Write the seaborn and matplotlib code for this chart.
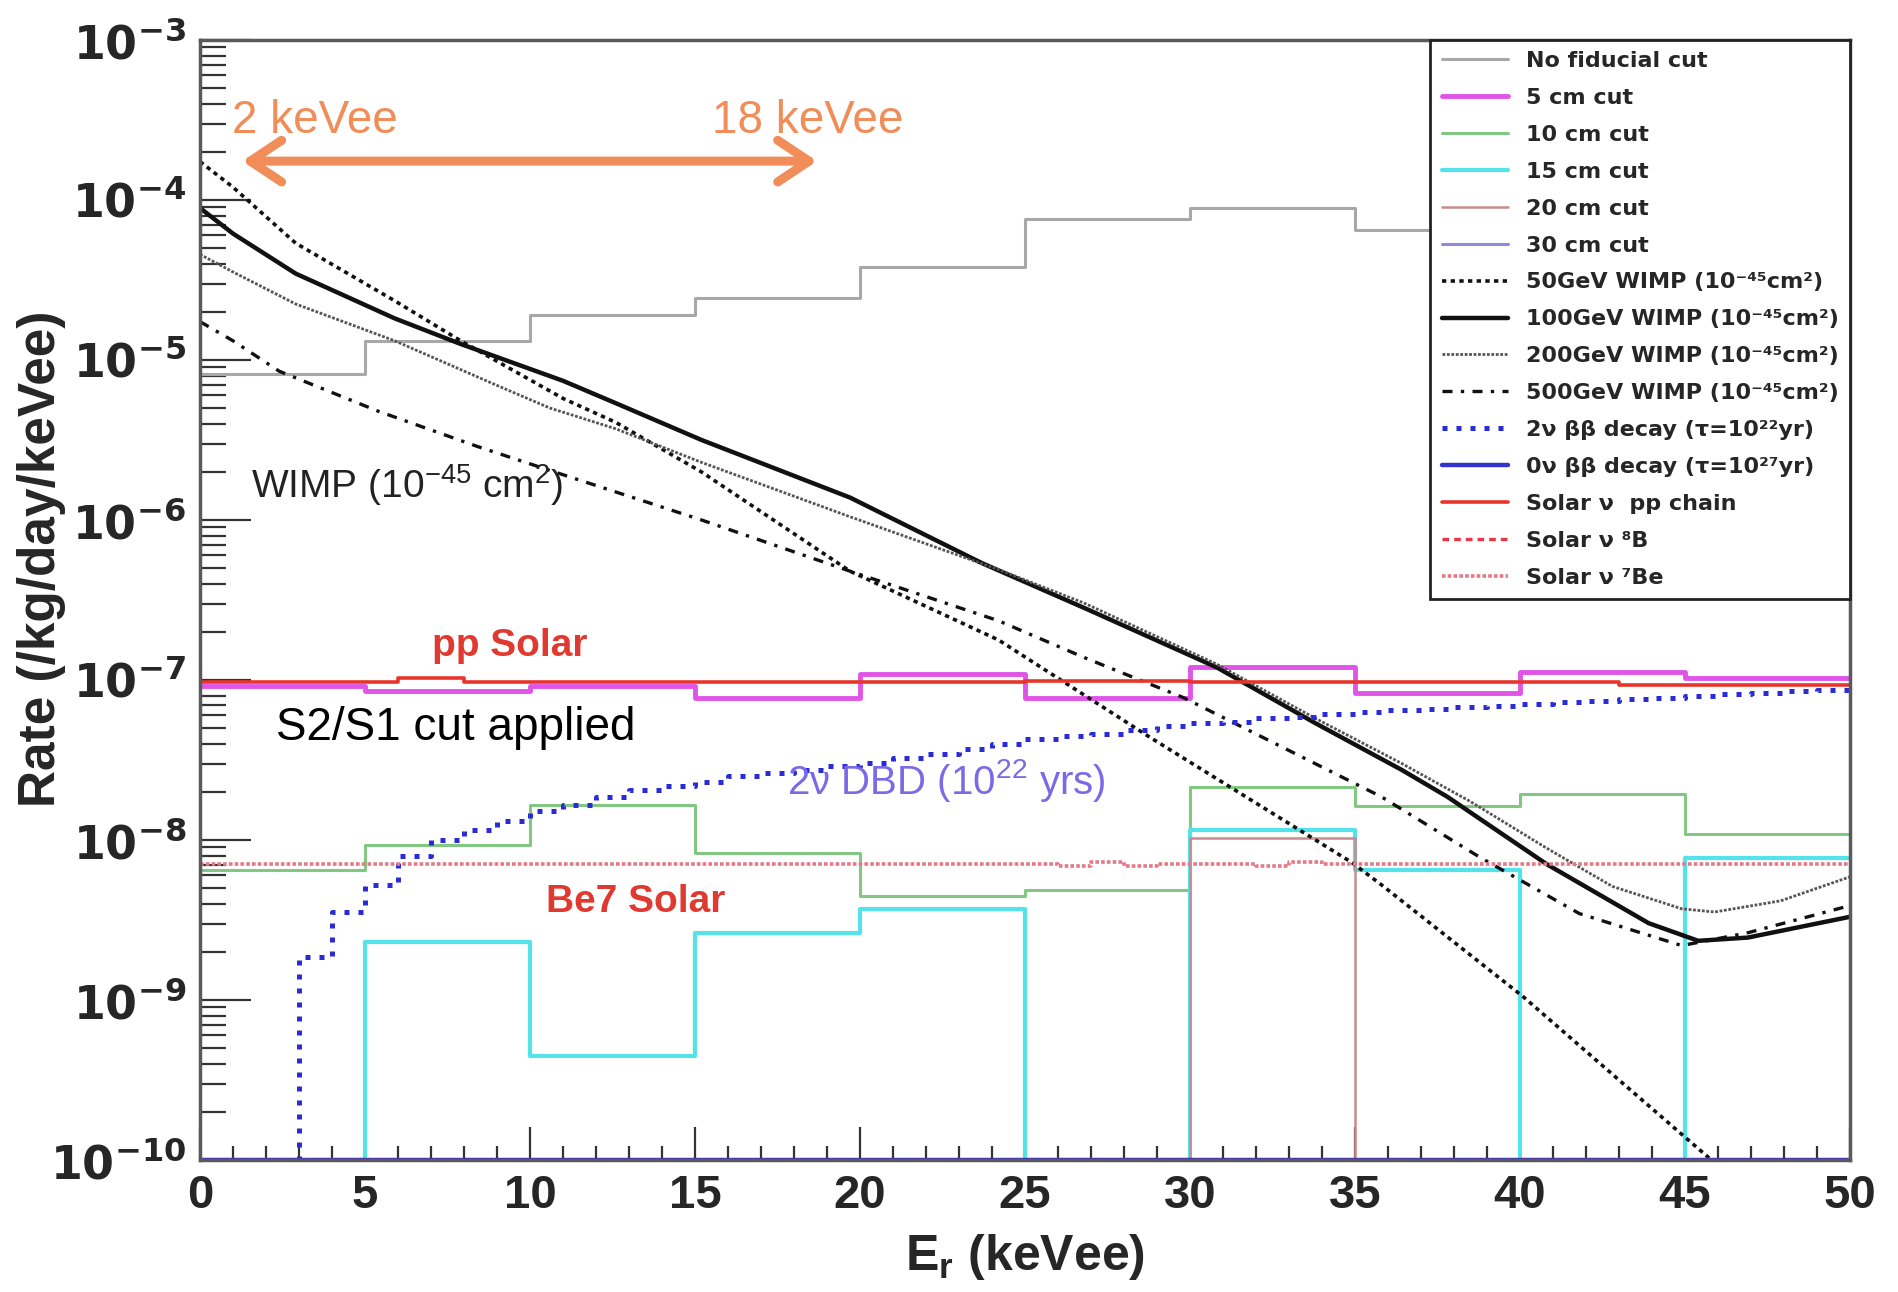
import numpy as np
import matplotlib
matplotlib.use("Agg")
import matplotlib.pyplot as plt
import seaborn as sns
from matplotlib.ticker import FixedLocator, FuncFormatter, LogLocator, NullFormatter

sns.set_theme(style="white")
plt.rcParams['font.family'] = ['DejaVu Sans']
plt.rcParams['mathtext.default'] = 'regular'

# ========== data (log10 of rate) ==========
cut_edges = [0, 5, 10, 15, 20, 25, 30, 35, 40, 45, 50]
nofid_log = [-5.09, -4.88, -4.72, -4.61, -4.42, -4.12, -4.05, -4.19, -4.30, -4.45]
cut5_log = [-7.04, -7.07, -7.04, -7.11, -6.96, -7.11, -6.92, -7.08, -6.95, -6.99]
cut10_log = [-8.19, -8.03, -7.78, -8.08, -8.35, -8.31, -7.67, -7.79, -7.71, -7.96]
cut15_log = [np.nan, -8.64, -9.35, -8.58, -8.43, np.nan, -7.94, -8.19, np.nan, -8.11]
cut20_log = [np.nan, np.nan, np.nan, np.nan, np.nan, np.nan, -7.99, np.nan, np.nan, np.nan]
cut30_log = [np.nan] * 10

wimp50_E = [0, 1.0, 2.9, 5.9, 7.9, 11.0, 12.6, 15.2, 19.7, 24.2, 28.8, 34.9, 35.8, 40.1, 43.0, 45.8]
wimp50_log = [-3.76, -3.92, -4.27, -4.63, -4.88, -5.24, -5.39, -5.70, -6.32, -6.75, -7.36, -8.14,
              -8.28, -8.98, -9.50, -10.0]
wimp100_E = [0, 1.0, 2.9, 5.9, 7.9, 11.0, 12.6, 15.2, 19.7, 23.7, 26.8, 30.8, 33.8, 36.4, 37.8,
             40.8, 43.9, 45.4, 46.9, 50.0]
wimp100_log = [-4.05, -4.21, -4.46, -4.74, -4.90, -5.13, -5.27, -5.50, -5.86, -6.27, -6.55, -6.92,
               -7.27, -7.56, -7.73, -8.15, -8.52, -8.63, -8.61, -8.48]
wimp200_E = [0, 1.0, 2.9, 5.9, 8.9, 10.6, 12.6, 15.2, 19.7, 24.2, 26.8, 30.8, 33.8, 36.4, 38.5,
             40.8, 42.8, 44.9, 45.9, 47.9, 50.0]
wimp200_log = [-4.34, -4.45, -4.65, -4.88, -5.15, -5.30, -5.43, -5.64, -5.98, -6.31, -6.52, -6.90,
               -7.24, -7.52, -7.76, -8.05, -8.29, -8.43, -8.45, -8.38, -8.23]
wimp500_E = [0, 1.0, 2.4, 5.4, 8.4, 10.6, 15.2, 19.7, 24.2, 26.8, 29.8, 32.8, 35.8, 38.8, 41.8,
             44.9, 46.9, 50.0]
wimp500_log = [-4.76, -4.88, -5.07, -5.32, -5.54, -5.69, -6.00, -6.32, -6.63, -6.86, -7.11, -7.42,
               -7.73, -8.11, -8.46, -8.66, -8.58, -8.41]

fine_edges = list(range(0, 51))
dbd2_log = [np.nan, np.nan, np.nan, -8.73, -8.45, -8.28, -8.10, -8.00, -7.94, -7.88,
            -7.82, -7.78, -7.73, -7.69, -7.66, -7.64, -7.60, -7.58, -7.56, -7.54,
            -7.52, -7.49, -7.46, -7.43, -7.40, -7.37, -7.35, -7.34, -7.31, -7.29,
            -7.27, -7.26, -7.24, -7.23, -7.21, -7.20, -7.19, -7.18, -7.17, -7.16,
            -7.15, -7.14, -7.13, -7.12, -7.11, -7.10, -7.09, -7.08, -7.07, -7.06]
dbd0_log = [np.nan] * 50
pp_log = [-7.015, -7.015, -7.015, -7.015, -7.015, -7.015, -6.985, -6.985, -7.015, -7.015,
          -7.015, -7.015, -7.015, -7.015, -7.015, -7.015, -7.015, -7.015, -7.015, -7.015,
          -7.010, -7.010, -7.010, -7.010, -7.010, -7.005, -7.005, -7.005, -7.005, -7.005,
          -7.015, -7.015, -7.015, -7.015, -7.015, -7.015, -7.015, -7.015, -7.015, -7.015,
          -7.015, -7.015, -7.015, -7.030, -7.030, -7.030, -7.030, -7.030, -7.030, -7.030]
b8_log = [np.nan] * 50
be7_log = [-8.15, -8.15, -8.15, -8.15, -8.15, -8.15, -8.15, -8.15, -8.15, -8.15,
           -8.15, -8.15, -8.15, -8.15, -8.15, -8.15, -8.15, -8.15, -8.15, -8.15,
           -8.15, -8.15, -8.15, -8.15, -8.15, -8.15, -8.16, -8.14, -8.16, -8.15,
           -8.15, -8.15, -8.16, -8.14, -8.15, -8.15, -8.15, -8.15, -8.15, -8.15,
           -8.15, -8.15, -8.15, -8.15, -8.15, -8.15, -8.15, -8.15, -8.15, -8.15]

legend_labels = ["No fiducial cut", "5 cm cut", "10 cm cut", "15 cm cut", "20 cm cut", "30 cm cut",
                 "50GeV WIMP (10⁻⁴⁵cm²)", "100GeV WIMP (10⁻⁴⁵cm²)", "200GeV WIMP (10⁻⁴⁵cm²)",
                 "500GeV WIMP (10⁻⁴⁵cm²)", "2ν ββ decay (τ=10²²yr)", "0ν ββ decay (τ=10²⁷yr)",
                 "Solar ν  pp chain", "Solar ν ⁸B", "Solar ν ⁷Be"]

FLOOR = 1e-10


def steps(edges, logs):
    # histogram -> points for steps-post, empty bins sit on the floor
    v = np.array(logs, dtype=float)
    v = np.where(np.isnan(v), FLOOR, 10.0 ** v)
    return np.array(edges, dtype=float), np.append(v, v[-1])


fig = plt.figure(figsize=(18.98, 12.92), dpi=100)
ax = fig.add_axes([200 / 1898, 1 - 1160 / 1292, 1650 / 1898, 1120 / 1292])
ax.set_yscale("log")

hist_styles = [
    (nofid_log, "#a8a8a8", 2.2, "-"),
    (cut5_log, "#e055e8", 3.5, "-"),
    (cut10_log, "#82c882", 2.2, "-"),
    (cut15_log, "#55e3ea", 3.0, "-"),
    (cut20_log, "#c88c8c", 1.8, "-"),
    (cut30_log, "#9088e0", 2.2, "-"),
]
for i, (vals, col, lw, ls) in enumerate(hist_styles):
    x, y = steps(cut_edges, vals)
    sns.lineplot(x=x, y=y, ax=ax, drawstyle="steps-post", color=col, lw=lw, linestyle=ls,
                 estimator=None, sort=False, label=legend_labels[i])

wimp_styles = [
    (wimp50_E, wimp50_log, "#111111", 2.6, (0, (1.2, 1.2))),
    (wimp100_E, wimp100_log, "#111111", 3.2, "-"),
    (wimp200_E, wimp200_log, "#555555", 2.0, (0, (1, 0.6))),
    (wimp500_E, wimp500_log, "#111111", 2.4, (0, (3, 2.5, 1, 2.5))),
]
for j, (E, lg, col, lw, ls) in enumerate(wimp_styles):
    sns.lineplot(x=np.array(E), y=10.0 ** np.array(lg), ax=ax, color=col, lw=lw, linestyle=ls,
                 estimator=None, sort=False, label=legend_labels[6 + j])

fine_styles = [
    (dbd2_log, "#2b2bd6", 3.6, (0, (1, 1.8))),
    (dbd0_log, "#3434cc", 3.2, "-"),
    (pp_log, "#e8352c", 2.6, "-"),
    (b8_log, "#e83848", 2.4, (0, (2, 1.5))),
    (be7_log, "#e27a88", 2.6, (0, (1, 0.6))),
]
for k, (vals, col, lw, ls) in enumerate(fine_styles):
    x, y = steps(fine_edges, vals)
    sns.lineplot(x=x, y=y, ax=ax, drawstyle="steps-post", color=col, lw=lw, linestyle=ls,
                 estimator=None, sort=False, label=legend_labels[10 + k])

ax.set_xlim(0, 50)
ax.set_ylim(1e-10, 1e-3)

# ---- axes look (ROOT like) ----
for sp in ax.spines.values():
    sp.set_color("#5a5a5a")
    sp.set_linewidth(2.5)

ax.xaxis.set_major_locator(FixedLocator(cut_edges))
ax.xaxis.set_minor_locator(FixedLocator(fine_edges))
ax.yaxis.set_major_locator(LogLocator(base=10, numticks=20))
ax.yaxis.set_minor_locator(LogLocator(base=10, subs=np.arange(2, 10), numticks=100))
ax.yaxis.set_minor_formatter(NullFormatter())
ax.yaxis.set_major_formatter(FuncFormatter(lambda v, p: r"$\mathbf{10^{%d}}$" % round(np.log10(v))))

ax.tick_params(axis="both", which="both", direction="in", color="#333333", width=1.6,
               bottom=True, left=True, top=False, right=False)
ax.tick_params(axis="x", which="major", length=24, pad=10)
ax.tick_params(axis="x", which="minor", length=10)
ax.tick_params(axis="y", which="major", length=37, pad=10, labelsize=33)
ax.tick_params(axis="y", which="minor", length=19)

for t in ax.get_xticklabels():
    t.set_fontfamily("Liberation Sans")
    t.set_fontweight("bold")
    t.set_fontsize(34)

ax.set_xlabel("E$_{r}$ (keVee)", fontfamily="Liberation Sans", fontweight="bold", fontsize=36,
              labelpad=10)
ax.set_ylabel("Rate (/kg/day/keVee)", fontfamily="Liberation Sans", fontweight="bold",
              fontsize=37)
ax.yaxis.set_label_coords(-0.096, 0.537)
ax.yaxis.label.set_va("center")

# ---- annotations ----
ax.annotate("", xy=(1.28, 1.75e-4), xytext=(18.7, 1.75e-4),
            arrowprops=dict(arrowstyle="<->, head_length=0.75, head_width=0.5", lw=6.5,
                            color="#f08d58", mutation_scale=30, shrinkA=0, shrinkB=0))
orange_kw = dict(fontfamily="Liberation Sans", fontsize=33, color="#f08d58", ha="left", va="center")
ax.text(0.97, 3.1e-4, "2 keVee", **orange_kw)
ax.text(15.5, 3.1e-4, "18 keVee", **orange_kw)
ax.text(1.54, 10 ** -5.78, "WIMP (10$^{-45}$ cm$^{2}$)", fontfamily="Liberation Sans", fontsize=28,
        color="#222222", ha="left", va="center")
ax.text(7.04, 10 ** -6.785, "pp Solar", fontfamily="Liberation Sans", fontweight="bold",
        fontsize=28, color="#e03a30", ha="left", va="center")
ax.text(2.3, 10 ** -7.30, "S2/S1 cut applied", fontfamily="Liberation Sans", fontsize=33,
        color="black", ha="left", va="center")
ax.text(17.8, 10 ** -7.63, "2ν DBD (10$^{22}$ yrs)", fontfamily="Liberation Sans", fontsize=29,
        color="#7a6ae6", ha="left", va="center")
ax.text(10.5, 10 ** -8.39, "Be7 Solar", fontfamily="Liberation Sans", fontweight="bold",
        fontsize=28, color="#e03a30", ha="left", va="center")

leg = ax.legend(loc="upper right", bbox_to_anchor=(1, 1), borderaxespad=0, frameon=True,
                fancybox=False, framealpha=1, edgecolor="#222222",
                prop=dict(family="DejaVu Sans", weight="bold", size=16),
                handlelength=3.0, handletextpad=0.8, labelspacing=0.76, borderpad=0.5)
leg.get_frame().set_linewidth(2)

fig.savefig("out.png", dpi=100, facecolor="white")
